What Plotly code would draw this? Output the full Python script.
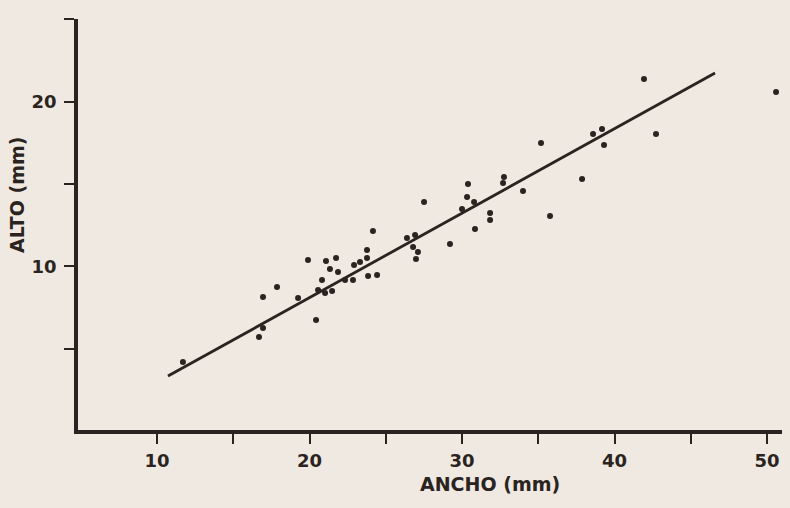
import plotly.graph_objects as go

# Data (ANCHO vs ALTO, mm)
ancho = [11.70, 16.95, 17.87, 16.95, 16.69, 19.25, 19.90, 20.43, 20.82, 21.08,
         21.74, 21.34, 21.87, 20.56, 21.02, 21.48, 22.33, 22.85, 22.92, 23.31,
         23.77, 23.77, 23.84, 24.43, 24.16, 26.39, 26.92, 26.79, 27.11, 26.98,
         29.21, 27.51, 30.00, 30.79, 30.39, 30.33, 30.85, 31.84, 31.84, 32.75,
         32.69, 34.00, 35.18, 35.77, 37.87, 38.59, 39.18, 39.31, 41.93, 42.72,
         50.59]
alto = [4.21, 8.15, 8.76, 6.27, 5.73, 8.09, 10.39, 6.76, 9.18, 10.33,
        10.52, 9.85, 9.67, 8.58, 8.39, 8.52, 9.18, 9.18, 10.09, 10.27,
        11.00, 10.52, 9.42, 9.48, 12.15, 11.73, 11.91, 11.18, 10.88, 10.45,
        11.36, 13.91, 13.48, 13.91, 15.00, 14.21, 12.27, 13.24, 12.82, 15.42,
        15.06, 14.58, 17.48, 13.06, 15.30, 18.03, 18.33, 17.36, 21.36, 18.03,
        20.58]

# Regression line endpoints
fit_x = [10.72, 46.59]
fit_y = [3.36, 21.73]

x_ticks = [10, 15, 20, 25, 30, 35, 40, 45, 50]
x_labels = ["10", "", "20", "", "30", "", "40", "", "50"]
y_ticks = [5, 10, 15, 20, 25]
y_labels = ["", "10", "", "20", ""]

ink = "#2a2320"
paper = "#efe9e2"

fig = go.Figure()
fig.add_trace(go.Scatter(x=fit_x, y=fit_y, mode="lines",
                         line=dict(color=ink, width=2.8), hoverinfo="skip"))
fig.add_trace(go.Scatter(x=ancho, y=alto, mode="markers",
                         marker=dict(color=ink, size=6)))

fig.update_layout(
    width=790, height=508,
    margin=dict(l=78, r=8, t=19, b=78),
    paper_bgcolor=paper, plot_bgcolor=paper,
    showlegend=False,
    font=dict(family="DejaVu Sans", color=ink, size=18, weight="bold"),
    xaxis=dict(range=[4.82, 50.98], showgrid=False, zeroline=False,
               showline=True, linewidth=3.5, linecolor=ink,
               ticks="outside", ticklen=10, tickwidth=2, tickcolor=ink,
               tickvals=x_ticks, ticktext=x_labels, ticklabelstandoff=2,
               tickfont=dict(size=18, weight="bold")),
    yaxis=dict(range=[0.09, 25.0], showgrid=False, zeroline=False,
               showline=True, linewidth=3.5, linecolor=ink,
               ticks="outside", ticklen=10, tickwidth=2, tickcolor=ink,
               tickvals=y_ticks, ticktext=y_labels, ticklabelstandoff=4,
               tickfont=dict(size=18, weight="bold")),
    annotations=[
        dict(text="ANCHO (mm)", xref="paper", yref="paper", x=0.585, y=-0.132,
             xanchor="center", yanchor="middle", showarrow=False,
             font=dict(size=19, color=ink, weight="bold")),
        dict(text="ALTO (mm)", xref="paper", yref="paper", x=-0.0866, y=0.572,
             xanchor="center", yanchor="middle", showarrow=False, textangle=-90,
             font=dict(size=19, color=ink, weight="bold")),
    ],
)

fig.write_html("out.html")
